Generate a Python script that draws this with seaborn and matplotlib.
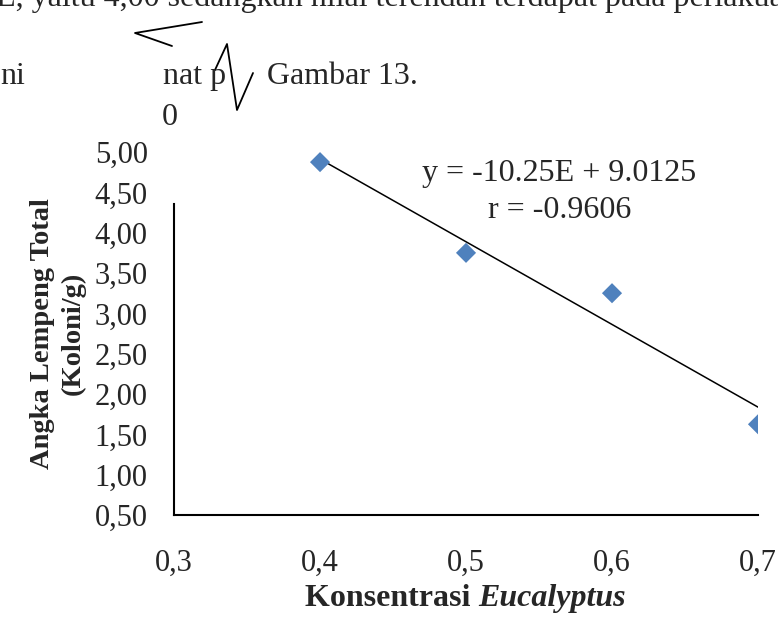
import matplotlib
matplotlib.use("Agg")
import matplotlib.pyplot as plt
from matplotlib.lines import Line2D
import seaborn as sns
import pandas as pd

# data
konsentrasi = [0.4, 0.5, 0.6, 0.7]
alt = [4.875, 3.75, 3.25, 1.625]
x_ticks = [0.3, 0.4, 0.5, 0.6, 0.7]
y_ticks = [0.5, 1.0, 1.5, 2.0, 2.5, 3.0, 3.5, 4.0, 4.5, 5.0]

sns.set_theme(style="white")
plt.rcParams['font.family'] = ['Liberation Serif', 'DejaVu Serif']

df = pd.DataFrame({'x': konsentrasi, 'y': alt})

fig = plt.figure(figsize=(7.78, 6.17), dpi=100)
ax = fig.add_axes([0.2237, 0.1653, 0.7506, 0.5883])

# garis regresi + titik
sns.regplot(data=df, x='x', y='y', ax=ax, ci=None, scatter=False,
            line_kws={'color': 'black', 'linewidth': 1.1})
sns.scatterplot(data=df, x='x', y='y', ax=ax, marker='D', s=105,
                color='#4F81BD', edgecolor='none', zorder=3)

ax.set_xlim(0.3, 0.7)
ax.set_ylim(0.5, 5.0)
ax.set_xticks(x_ticks)
ax.set_xticklabels([f"{v:.1f}".replace('.', ',') for v in x_ticks], fontsize=22)
ax.set_yticks(y_ticks)
ax.set_yticklabels([f"{v:.2f}".replace('.', ',') for v in y_ticks], fontsize=22)
ax.tick_params(axis='x', length=0, pad=24)
ax.tick_params(axis='y', length=0, pad=19)

for s in ['top', 'right']:
    ax.spines[s].set_visible(False)
for s in ['left', 'bottom']:
    ax.spines[s].set_color('black')
    ax.spines[s].set_linewidth(1.5)
ax.spines['left'].set_bounds(0.5, 4.35)

ax.set_xlabel('')
ax.set_ylabel('')

# judul sumbu
fig.text(0.6144, 0.0178, 'Konsentrasi ', ha='right', va='baseline',
         fontsize=23, fontweight='bold')
fig.text(0.6144, 0.0178, 'Eucalyptus', ha='left', va='baseline',
         fontsize=23, fontweight='bold', fontstyle='italic')
fig.text(0.054, 0.46, 'Angka Lempeng Total', rotation=90, ha='center',
         va='center', fontsize=20.5, fontweight='bold')
fig.text(0.094, 0.46, '(Koloni/g)', rotation=90, ha='center',
         va='center', fontsize=20.5, fontweight='bold')

# persamaan
ax.text(0.564, 4.74, 'y = -10.25E + 9.0125', ha='center', va='center', fontsize=23)
ax.text(0.564, 4.28, 'r = -0.9606', ha='center', va='center', fontsize=23)

# potongan teks halaman
fig.text(-0.005, 0.9895, 'E, yaitu 4,00 sedangkan nilai terendah terdapat pada perlakuan',
         ha='left', va='baseline', fontsize=23)
fig.text(0.0, 0.864, 'ni', ha='left', va='baseline', fontsize=23)
fig.text(0.21, 0.864, 'nat p', ha='left', va='baseline', fontsize=23)
fig.text(0.343, 0.864, 'Gambar 13.', ha='left', va='baseline', fontsize=23)
fig.text(0.218, 0.81, '0', ha='center', va='center', fontsize=23)

# coretan zigzag
W, H = 778, 617
for xs, ys in [([202, 135, 172], [22, 33, 46]),
               ([215, 227, 237, 253], [70, 44, 110, 73])]:
    fig.add_artist(Line2D([x / W for x in xs], [1 - y / H for y in ys],
                          color='black', linewidth=1.3, transform=fig.transFigure))

fig.savefig('out.png', dpi=100)
